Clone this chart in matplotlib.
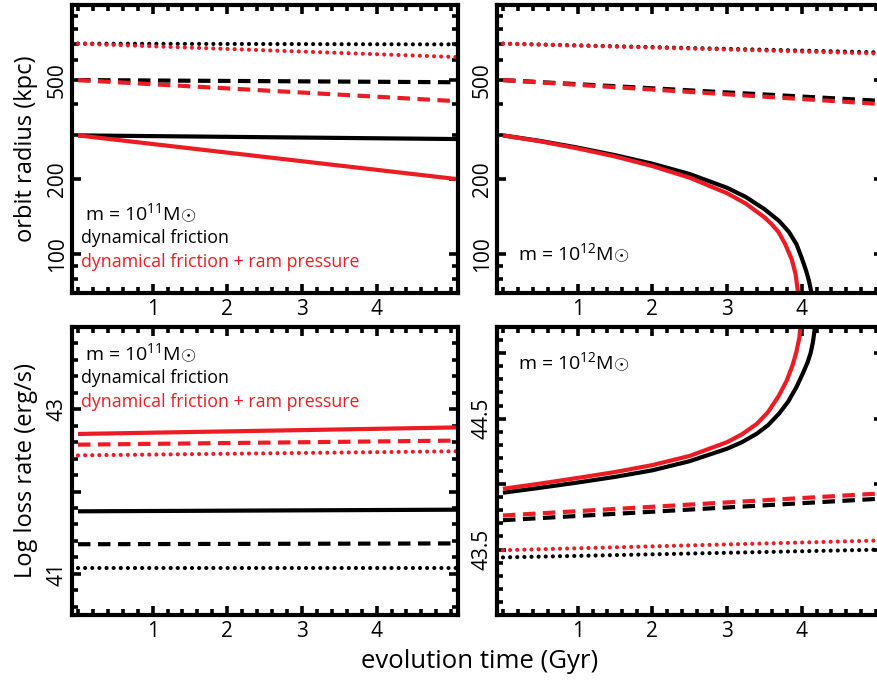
import numpy as np
import matplotlib
matplotlib.use("Agg")
import matplotlib.pyplot as plt
from matplotlib.ticker import FixedLocator, FixedFormatter

plt.rcParams['font.family'] = ['Open Sans', 'DejaVu Sans']
plt.rcParams['mathtext.fontset'] = 'custom'
plt.rcParams['mathtext.rm'] = 'Open Sans'
plt.rcParams['mathtext.it'] = 'Open Sans:italic'

RED = '#ED1C24'
BLACK = '#000000'

# ---------------- data ----------------
# straight runs: start and end values (time in Gyr)
t_ends = [0.0, 5.1]

# top-left: orbit radius (kpc), m = 1e11
tl_black_solid = [300, 290]
tl_red_solid = [300, 200]
tl_black_dash = [500, 490]
tl_red_dash = [500, 411]
tl_black_dot = [700, 695]
tl_red_dot = [700, 618]

# top-right: orbit radius (kpc), m = 1e12
tr_black_dot = [700, 645]
tr_red_dot = [700, 638]
tr_black_dash = [500, 412]
tr_red_dash = [500, 400]
tr_black_solid_t = [0, 0.5, 1.0, 1.5, 2.0, 2.5, 3.0, 3.25, 3.5, 3.7, 3.83, 3.93, 4.0,
                    4.06, 4.1, 4.14, 4.16, 4.18]
tr_black_solid_r = [300, 285, 268, 250, 231, 210, 185, 170, 152, 136, 123, 110, 97,
                    86, 78, 68, 58, 40]
tr_red_solid_t = [0, 0.5, 1.0, 1.5, 2.0, 2.5, 3.0, 3.25, 3.5, 3.6, 3.69, 3.78, 3.87,
                  3.92, 3.95, 3.98, 4.0]
tr_red_solid_r = [300, 284, 266, 247, 226, 203, 176, 160, 141, 132, 123, 110, 95,
                  83, 71, 52, 30]

# bottom-left: log loss rate (erg/s), m = 1e11
bl_red_solid = [42.70, 42.78]
bl_red_dash = [42.57, 42.62]
bl_red_dot = [42.44, 42.49]
bl_black_solid = [41.76, 41.78]
bl_black_dash = [41.36, 41.37]
bl_black_dot = [41.07, 41.07]

# bottom-right: log loss rate (erg/s), m = 1e12
br_black_solid_t = [0, 0.5, 1, 1.5, 2, 2.5, 3, 3.2, 3.4, 3.55, 3.7, 3.82, 3.93, 4.02,
                    4.08, 4.12, 4.15, 4.17, 4.19]
br_black_solid_v = [43.934, 43.972, 44.012, 44.055, 44.105, 44.175, 44.27, 44.32, 44.385,
                    44.45, 44.54, 44.63, 44.74, 44.85, 44.93, 45.0, 45.08, 45.16, 45.3]
br_red_solid_t = [0, 0.5, 1, 1.5, 2, 2.5, 3, 3.2, 3.4, 3.55, 3.69, 3.8, 3.88, 3.93,
                  3.97, 4.0]
br_red_solid_v = [43.964, 44.004, 44.047, 44.092, 44.145, 44.215, 44.32, 44.38, 44.46,
                  44.55, 44.67, 44.79, 44.91, 45.01, 45.12, 45.3]
br_red_dash = [43.76, 43.93]
br_black_dash = [43.724, 43.89]
br_red_dot = [43.495, 43.57]
br_black_dot = [43.44, 43.50]

x_major = [1, 2, 3, 4]
x_labels = ['1', '2', '3', '4']
top_y_major = [100, 200, 500]
top_y_labels = ['100', '200', '500']
top_y_minor = [80, 90, 300, 400, 600, 700, 800, 900]
bl_y_major = [41, 42, 43, 44]
bl_y_labels = ['41', '', '43', '']
br_y_major = [43.5, 44.0, 44.5, 45.0]
br_y_labels = ['43.5', '', '44.5', '']

# ---------------- styles ----------------
LW = 3.0
DASH = (0, (3.0, 1.8))
DOT = (0, (0.01, 1.7))


def line(ax, x, y, color, style):
    if style == 'solid':
        ax.plot(x, y, color=color, lw=LW, solid_capstyle='butt',
                solid_joinstyle='round')
    elif style == 'dash':
        ax.plot(x, y, color=color, lw=LW, linestyle=DASH, dash_capstyle='butt')
    else:
        ax.plot(x, y, color=color, lw=LW, linestyle=DOT, dash_capstyle='round')


W, H = 878, 683
fig = plt.figure(figsize=(W / 100, H / 100), dpi=100)


def px_axes(x0, y0, x1, y1):
    return fig.add_axes([x0 / W, 1 - y1 / H, (x1 - x0) / W, (y1 - y0) / H])


ax_tl = px_axes(72, 5, 458, 293)
ax_tr = px_axes(497, 5, 883, 293)
ax_bl = px_axes(72, 327, 458, 615)
ax_br = px_axes(497, 327, 883, 615)

XLIM = (-0.08, 5.09)
TICKFS = 15


def style_axes(ax, ymaj, ylab, yminor, ylim, log=False):
    if log:
        ax.set_yscale('log')
    ax.set_xlim(*XLIM)
    ax.set_ylim(*ylim)
    for s in ax.spines.values():
        s.set_linewidth(3.0)
    ax.xaxis.set_major_locator(FixedLocator(x_major))
    ax.xaxis.set_major_formatter(FixedFormatter(x_labels))
    ax.xaxis.set_minor_locator(FixedLocator(np.arange(0, 5.01, 0.2)))
    ax.yaxis.set_major_locator(FixedLocator(ymaj))
    ax.yaxis.set_major_formatter(FixedFormatter(ylab))
    ax.yaxis.set_minor_locator(FixedLocator(yminor))
    ax.tick_params(which='both', direction='in', top=True, right=True,
                   width=2.6, color='black')
    ax.tick_params(which='major', length=6.5)
    ax.tick_params(which='minor', length=4)
    ax.tick_params(axis='x', which='major', labelsize=TICKFS, pad=4)
    ax.tick_params(axis='y', which='major', labelsize=TICKFS, pad=3,
                   labelrotation=90)
    for lab in ax.get_yticklabels():
        lab.set_va('center')
        lab.set_ha('right')


style_axes(ax_tl, top_y_major, top_y_labels, top_y_minor, (70, 1000), log=True)
style_axes(ax_tr, top_y_major, top_y_labels, top_y_minor, (70, 1000), log=True)
style_axes(ax_bl, bl_y_major, bl_y_labels,
           [v for v in np.arange(40.6, 43.91, 0.2)], (40.5, 44.0))
style_axes(ax_br, br_y_major, br_y_labels,
           [v for v in np.arange(43.1, 45.11, 0.1)], (43.0, 45.2))

# top-left
line(ax_tl, t_ends, tl_black_dot, BLACK, 'dot')
line(ax_tl, t_ends, tl_red_dot, RED, 'dot')
line(ax_tl, t_ends, tl_black_dash, BLACK, 'dash')
line(ax_tl, t_ends, tl_red_dash, RED, 'dash')
line(ax_tl, t_ends, tl_black_solid, BLACK, 'solid')
line(ax_tl, t_ends, tl_red_solid, RED, 'solid')

# top-right
line(ax_tr, t_ends, tr_black_dot, BLACK, 'dot')
line(ax_tr, t_ends, tr_red_dot, RED, 'dot')
line(ax_tr, t_ends, tr_black_dash, BLACK, 'dash')
line(ax_tr, t_ends, tr_red_dash, RED, 'dash')
line(ax_tr, tr_black_solid_t, tr_black_solid_r, BLACK, 'solid')
line(ax_tr, tr_red_solid_t, tr_red_solid_r, RED, 'solid')

# bottom-left
line(ax_bl, t_ends, bl_red_solid, RED, 'solid')
line(ax_bl, t_ends, bl_red_dash, RED, 'dash')
line(ax_bl, t_ends, bl_red_dot, RED, 'dot')
line(ax_bl, t_ends, bl_black_solid, BLACK, 'solid')
line(ax_bl, t_ends, bl_black_dash, BLACK, 'dash')
line(ax_bl, t_ends, bl_black_dot, BLACK, 'dot')

# bottom-right
line(ax_br, br_black_solid_t, br_black_solid_v, BLACK, 'solid')
line(ax_br, br_red_solid_t, br_red_solid_v, RED, 'solid')
line(ax_br, t_ends, br_black_dash, BLACK, 'dash')
line(ax_br, t_ends, br_red_dash, RED, 'dash')
line(ax_br, t_ends, br_black_dot, BLACK, 'dot')
line(ax_br, t_ends, br_red_dot, RED, 'dot')

# ---------------- texts ----------------
def ftext(x, y, s, **kw):
    fig.text(x / W, 1 - y / H, s, **kw)

M11 = r'm = 10$^{11}$M$\odot$'
M12 = r'm = 10$^{12}$M$\odot$'
ANN = 12.8
MFS = 14

ftext(85, 213, M11, fontsize=MFS, va='center', ha='left')
ftext(81, 238, 'dynamical friction', fontsize=ANN, va='center', ha='left')
ftext(81, 262, 'dynamical friction + ram pressure', fontsize=ANN, color=RED,
      va='center', ha='left')
ftext(518, 253, M12, fontsize=MFS, va='center', ha='left')

ftext(85, 353, M11, fontsize=MFS, va='center', ha='left')
ftext(81, 378, 'dynamical friction', fontsize=ANN, va='center', ha='left')
ftext(81, 402, 'dynamical friction + ram pressure', fontsize=ANN, color=RED,
      va='center', ha='left')
ftext(518, 362, M12, fontsize=MFS, va='center', ha='left')

LABFS = 17
ftext(26, 149, 'orbit radius (kpc)', fontsize=LABFS, rotation=90,
      va='center', ha='center')
ftext(26, 471, 'Log loss rate (erg/s)', fontsize=LABFS, rotation=90,
      va='center', ha='center')
ftext(480, 661, 'evolution time (Gyr)', fontsize=18.5, va='center', ha='center')

fig.savefig('out.png', dpi=100)
